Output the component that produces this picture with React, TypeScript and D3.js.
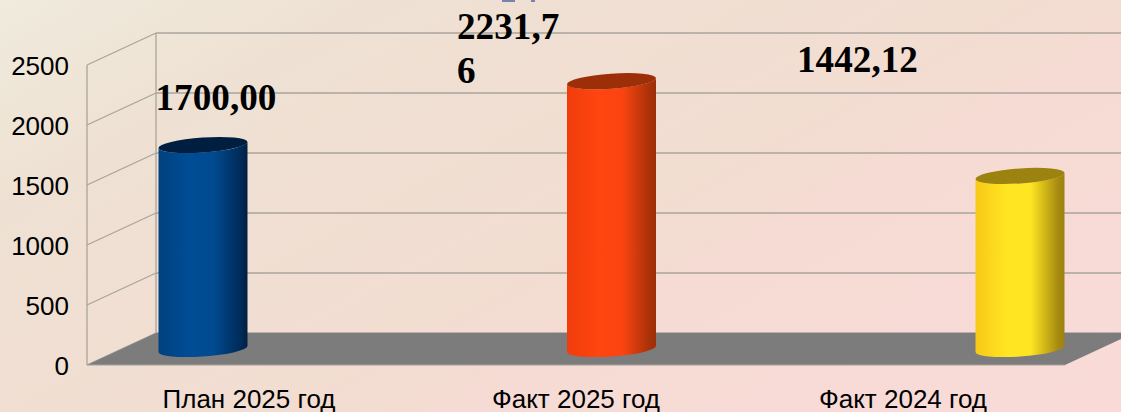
import React from "react"
import * as d3 from "d3"

const categories = ["План 2025 год", "Факт 2025 год", "Факт 2024 год"]
const values = [1700.0, 2231.76, 1442.12]
const valueLabels = [["1700,00"], ["2231,7", "6"], ["1442,12"]]
const yTicks = [0, 500, 1000, 1500, 2000, 2500]
const barStops = [
  ["#00417f", "#004d96", "#004a90", "#002a57", "#001f40"],
  ["#f03c0c", "#ff4510", "#fb4410", "#a83209", "#9c2e08"],
  ["#f9c817", "#ffe522", "#ffe522", "#a68a10", "#9c820f"],
]
const stopOffsets = [0, 0.35, 0.62, 0.93, 1]

const W = 1121
const H = 412
const depthX = 69
const depthY = -32
const left = 87
const right = 1065
const rx = 44.6
const ry = 7.5
const tilt = (4 * Math.PI) / 180

const y = d3.scaleLinear().domain([0, 2500]).range([365, 65])
const labelX = d3.scalePoint<string>().domain(categories).range([249, 903])
const barX = d3.scalePoint<string>().domain(categories).range([203, 1020])
const barScale = d3.scaleLinear().domain([0, 2500]).range([349, 49])

export default function App() {
  const ext = Math.sqrt(rx * rx * Math.cos(tilt) ** 2 + ry * ry * Math.sin(tilt) ** 2)
  const dy = ((rx * rx - ry * ry) * Math.sin(tilt) * Math.cos(tilt)) / ext
  const rot = (-tilt * 180) / Math.PI
  return (
    <svg width={W} height={H} style={{ position: "absolute", left: 0, top: 0 }}>
      <defs>
        <linearGradient id="bg" gradientUnits="userSpaceOnUse" x1="0" y1="0" x2="434" y2="789">
          <stop offset="0" stopColor="#f0ebdd" />
          <stop offset="0.2" stopColor="#eee1d3" />
          <stop offset="0.6" stopColor="#f3dcd1" />
          <stop offset="0.64" stopColor="#f6dbd4" />
          <stop offset="1" stopColor="#f9dad7" />
        </linearGradient>
        {barStops.map((s, i) => (
          <linearGradient key={i} id={`bar${i}`}>
            {s.map((c, j) => (
              <stop key={j} offset={stopOffsets[j]} stopColor={c} />
            ))}
          </linearGradient>
        ))}
      </defs>
      <rect width={W} height={H} fill="url(#bg)" />

      {/* back wall + side wall grid */}
      {yTicks.map((t) => (
        <g key={t} stroke="#aaa49c" strokeWidth={1.3} fill="none">
          <line x1={left} y1={y(t)} x2={left + depthX} y2={y(t) + depthY} />
          <line x1={left + depthX} y1={y(t) + depthY} x2={W} y2={y(t) + depthY} />
        </g>
      ))}
      <line x1={left} y1={y(0)} x2={left} y2={y(2500)} stroke="#aaa49c" strokeWidth={1.3} />
      <line x1={left + depthX} y1={y(0) + depthY} x2={left + depthX} y2={y(2500) + depthY} stroke="#aaa49c" strokeWidth={1.3} />

      {/* floor */}
      <polygon
        fill="#7c7c7c"
        points={[
          [left, y(0)],
          [right, y(0)],
          [right + depthX, y(0) + depthY],
          [left + depthX, y(0) + depthY],
        ].join(" ")}
      />
      <line x1={left} y1={y(0)} x2={right} y2={y(0)} stroke="#a8a29a" strokeWidth={1} />

      {yTicks.map((t) => (
        <text key={t} x={69} y={y(t) + 9.5} textAnchor="end" fontFamily="Liberation Sans" fontSize={26} fill="#000">
          {t}
        </text>
      ))}

      {categories.map((c, i) => {
        const cx = barX(c)!
        const topY = barScale(values[i])
        const baseY = barScale(0)
        const d = [
          `M${cx - ext},${topY + dy}`,
          `L${cx - ext},${baseY + dy}`,
          `A${rx},${ry} ${rot} 0 0 ${cx + ext},${baseY - dy}`,
          `L${cx + ext},${topY - dy}`,
          `A${rx},${ry} ${rot} 0 1 ${cx - ext},${topY + dy}`,
          "Z",
        ].join(" ")
        return (
          <g key={c}>
            <path d={d} fill={`url(#bar${i})`} />
            <ellipse
              cx={cx}
              cy={topY}
              rx={rx}
              ry={ry}
              transform={`rotate(${rot} ${cx} ${topY})`}
              fill={barStops[i][4]}
            />
          </g>
        )
      })}

      {categories.map((c) => (
        <text key={c} x={labelX(c)} y={408} textAnchor="middle" fontFamily="Liberation Sans" fontSize={26} fill="#000">
          {c}
        </text>
      ))}

      {valueLabels.map((lines, i) => {
        const xs = [155.5, 457, 797]
        const ys = [110, 39, 72]
        return (
          <text key={i} fontFamily="Liberation Serif" fontWeight="bold" fontSize={37.2} fill="#000">
            {lines.map((l, j) => (
              <tspan key={j} x={xs[i]} y={ys[i] + j * 44}>
                {l}
              </tspan>
            ))}
          </text>
        )
      })}

      {/* bits of a blue label that is cut off by the top edge in the original */}
      <rect x={502} y={0} width={13} height={2} fill="#7384ad" />
      <rect x={531} y={0} width={4} height={2} fill="#7384ad" />
    </svg>
  )
}
